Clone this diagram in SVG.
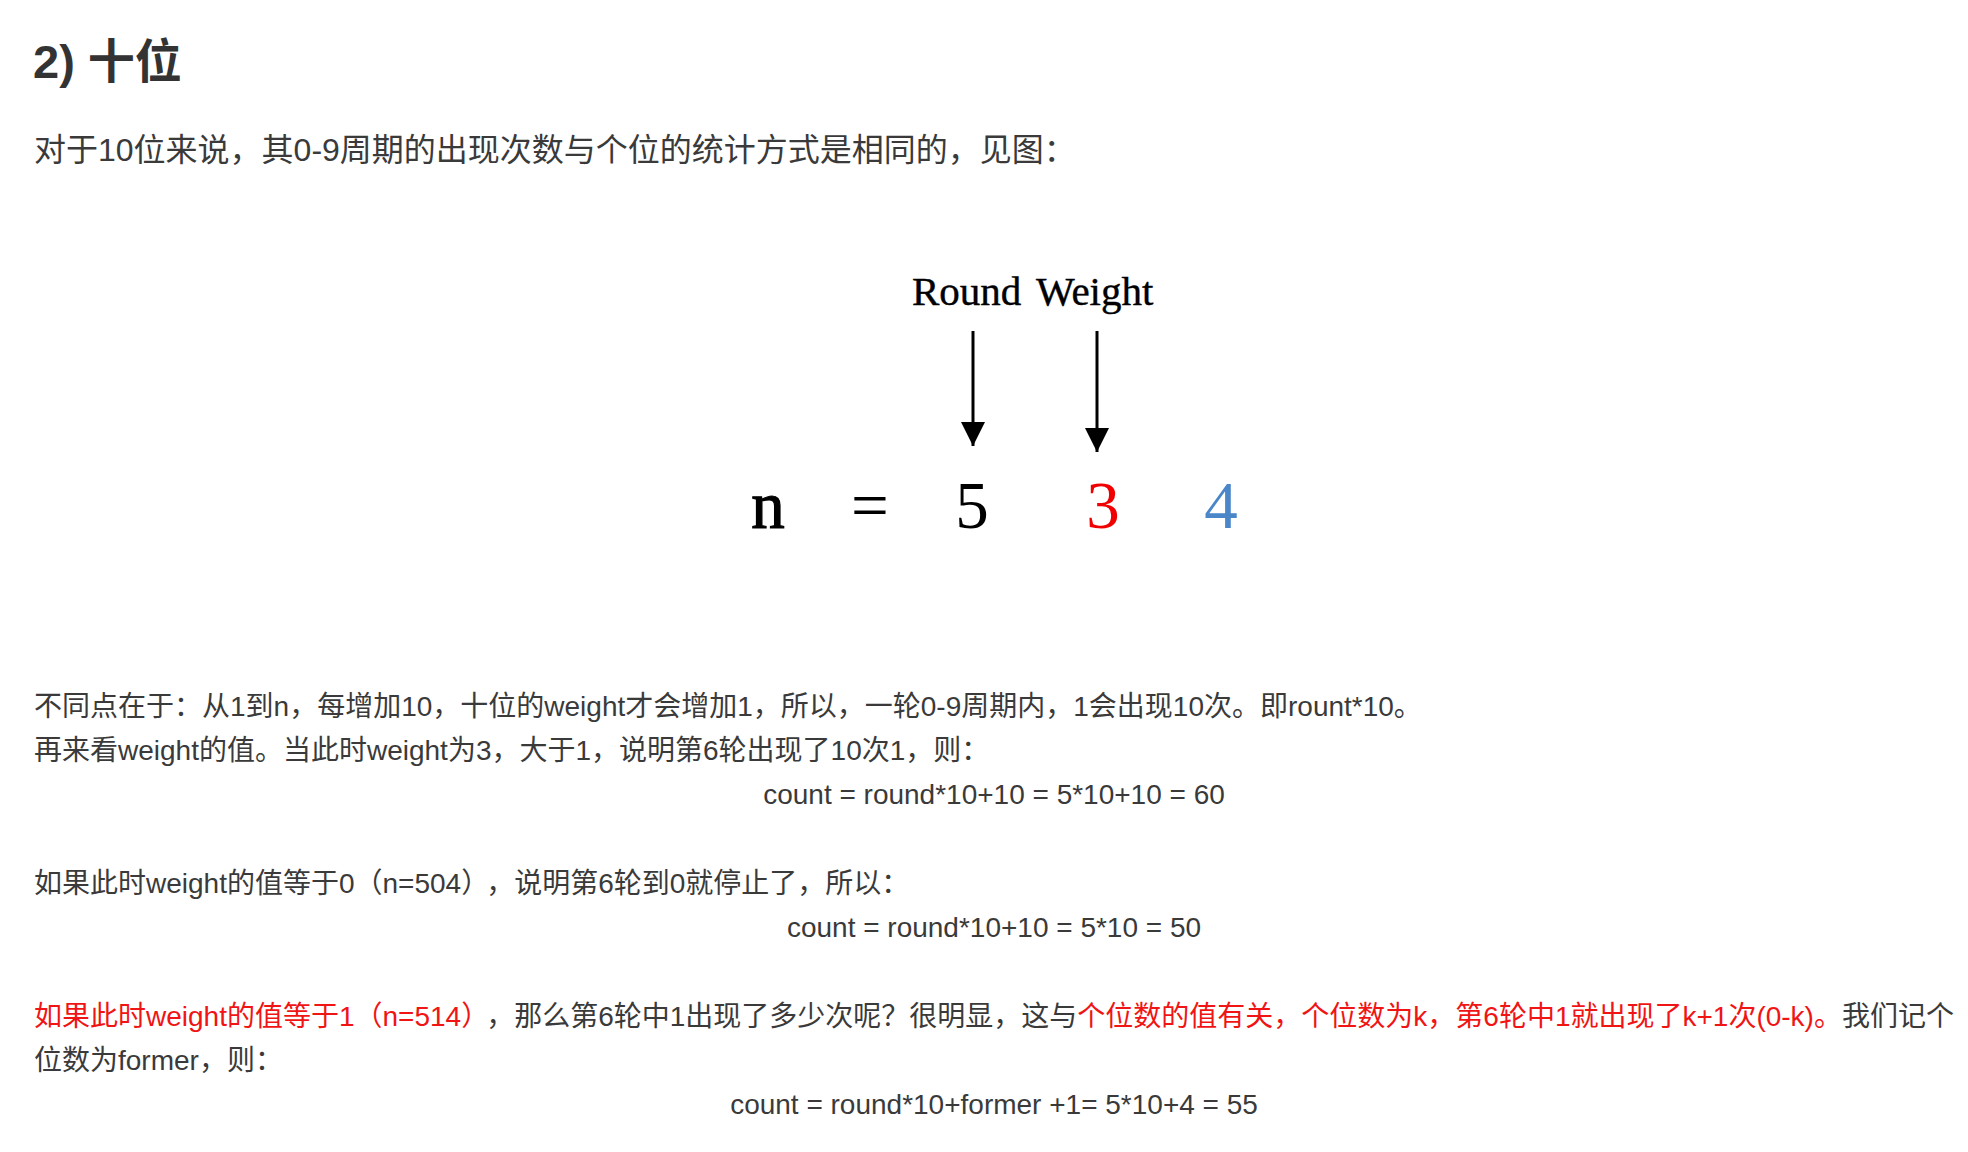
<svg xmlns="http://www.w3.org/2000/svg" width="1968" height="1152" viewBox="0 0 1968 1152">
<defs>
<style>
.t{font-family:"Liberation Sans","Noto Sans CJK SC",sans-serif;fill:#3a3a3a;font-size:28px}
.r{fill:#f01414}
.h{font-size:47px;font-weight:bold;fill:#333}
.s{font-family:"Liberation Serif","Times New Roman",serif;fill:#000}
.c{text-anchor:middle}
</style>
<marker id="ah" viewBox="0 0 10 10" refX="10" refY="5" markerWidth="8" markerHeight="9" markerUnits="strokeWidth" orient="auto">
<path d="M0,0 L10,5 L0,10 Z" fill="#000"/>
</marker>
</defs>
<rect width="1968" height="1152" fill="#fff"/>
<text class="t h" x="33" y="78">2) 十位</text>
<text class="t" x="34" y="161" style="font-size:32px">对于10位来说，其0-9周期的出现次数与个位的统计方式是相同的，见图：</text>
<g id="labels">
<text class="s" x="912" y="305" font-size="41" stroke="#000" stroke-width="0.4">Round</text>
<text class="s" x="1036" y="305" font-size="41" stroke="#000" stroke-width="0.4">Weight</text>
</g>
<g id="connectors" stroke="#000" stroke-width="3" fill="none">
<line x1="973" y1="331" x2="973" y2="446" marker-end="url(#ah)"/>
<line x1="1097" y1="331" x2="1097" y2="452" marker-end="url(#ah)"/>
</g>
<g id="number" class="s" font-size="67">
<text class="s c" x="768" y="528" stroke="#000" stroke-width="1.2">n</text>
<text class="s c" x="870" y="528">=</text>
<text class="s c" x="972" y="528">5</text>
<text class="s c" x="1103" y="528" style="fill:#f00000">3</text>
<text class="s c" x="1221" y="528" style="fill:#4a86c8">4</text>
</g>
<text class="t" x="34" y="716">不同点在于：从1到n，每增加10，十位的weight才会增加1，所以，一轮0-9周期内，1会出现10次。即rount*10。</text>
<text class="t" x="34" y="760">再来看weight的值。当此时weight为3，大于1，说明第6轮出现了10次1，则：</text>
<text class="t c" x="994" y="804">count = round*10+10 = 5*10+10 = 60</text>
<text class="t" x="34" y="893">如果此时weight的值等于0（n=504）<tspan dx="11">，说明第6轮到0就停止了，所以：</tspan></text>
<text class="t c" x="994" y="937">count = round*10+10 = 5*10 = 50</text>
<text class="t" x="34" y="1026"><tspan class="r">如果此时weight的值等于1（n=514）</tspan><tspan dx="11">，那么第6轮中1出现了多少次呢？很明显，这与</tspan><tspan class="r">个位数的值有关，个位数为k，第6轮中1就出现了k+1次(0-k)。</tspan>我们记个</text>
<text class="t" x="34" y="1070">位数为former，则：</text>
<text class="t c" x="994" y="1114">count = round*10+former +1= 5*10+4 = 55</text>
</svg>
